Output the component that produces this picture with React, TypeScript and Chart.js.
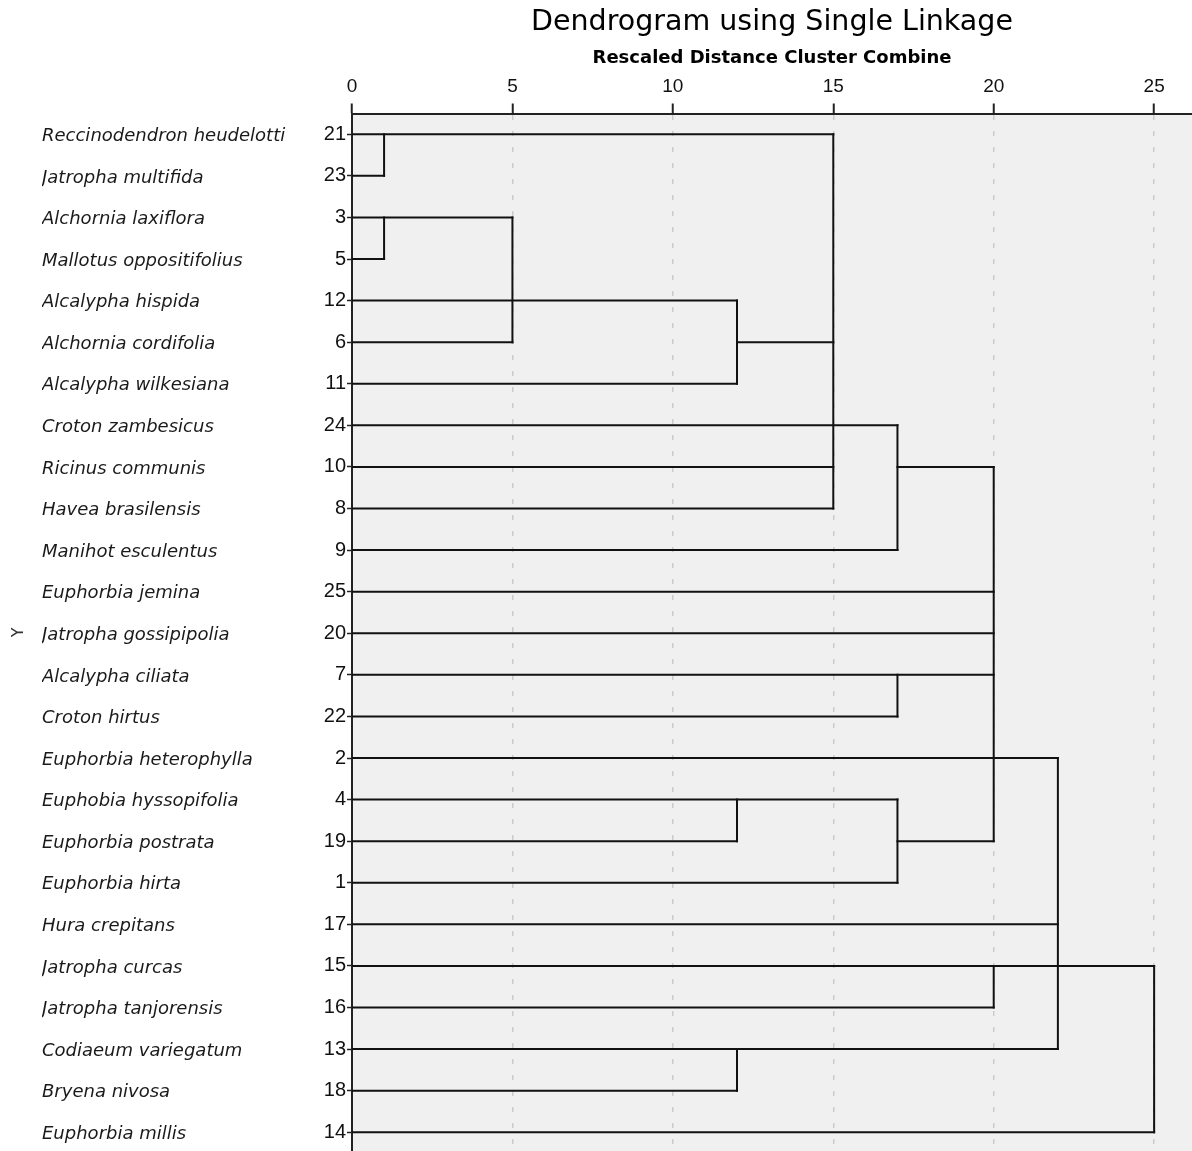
import { useEffect, useRef } from 'react';
import { Chart, registerables } from 'chart.js';

Chart.register(...registerables);

// Rows of the dendrogram, top to bottom
const speciesNames = [
  'Reccinodendron heudelotti',
  'Jatropha multifida',
  'Alchornia laxiflora',
  'Mallotus oppositifolius',
  'Alcalypha hispida',
  'Alchornia cordifolia',
  'Alcalypha wilkesiana',
  'Croton zambesicus',
  'Ricinus communis',
  'Havea brasilensis',
  'Manihot esculentus',
  'Euphorbia jemina',
  'Jatropha gossipipolia',
  'Alcalypha ciliata',
  'Croton hirtus',
  'Euphorbia heterophylla',
  'Euphobia hyssopifolia',
  'Euphorbia postrata',
  'Euphorbia hirta',
  'Hura crepitans',
  'Jatropha curcas',
  'Jatropha tanjorensis',
  'Codiaeum variegatum',
  'Bryena nivosa',
  'Euphorbia millis',
];

const caseNumbers = [21, 23, 3, 5, 12, 6, 11, 24, 10, 8, 9, 25, 20, 7, 22, 2, 4, 19, 1, 17, 15, 16, 13, 18, 14];

const distanceTicks = [0, 5, 10, 15, 20, 25];

// Horizontal branches: [row, from distance, to distance]
const horizontalSegments: [number, number, number][] = [
  [0, 0, 15], [1, 0, 1], [2, 0, 5], [3, 0, 1], [4, 0, 12], [5, 0, 5], [5, 12, 15],
  [6, 0, 12], [7, 0, 17], [8, 0, 15], [8, 17, 20], [9, 0, 15], [10, 0, 17],
  [11, 0, 20], [12, 0, 20], [13, 0, 20], [14, 0, 17], [15, 0, 22], [16, 0, 17],
  [17, 0, 12], [17, 17, 20], [18, 0, 17], [19, 0, 22], [20, 0, 25], [21, 0, 20],
  [22, 0, 22], [23, 0, 12], [24, 0, 25],
];

// Vertical joins: [distance, from row, to row]
const verticalSegments: [number, number, number][] = [
  [1, 0, 1], [1, 2, 3], [5, 2, 5], [12, 4, 6], [15, 0, 9], [17, 7, 10], [20, 8, 17],
  [17, 13, 14], [12, 16, 17], [17, 16, 18], [22, 15, 22], [20, 20, 21], [12, 22, 23],
  [25, 20, 24],
];

const FONT = '"DejaVu Sans", Verdana, sans-serif';
const NUM_FONT = '"Liberation Sans", Arial, sans-serif';
const Y_MIN = -0.5;
const Y_MAX = 24.45;

export default function App() {
  const ref = useRef<HTMLCanvasElement>(null);

  useEffect(() => {
    const rowTicks = () => speciesNames.map((_, i) => ({ value: i }));
    const lineStyle = {
      showLine: true,
      borderColor: '#111',
      borderWidth: 2,
      pointRadius: 0,
      pointHoverRadius: 0,
      borderCapStyle: 'square' as const,
      fill: false,
      tension: 0,
    };
    const datasets = [
      ...horizontalSegments.map(([row, x0, x1]) => ({
        data: [{ x: x0, y: row }, { x: x1, y: row }],
      })),
      ...verticalSegments.map(([d, r0, r1]) => ({
        data: [{ x: d, y: r0 }, { x: d, y: r1 }],
      })),
    ].map((ds) => ({ ...ds, ...lineStyle }));

    const plotBg = {
      id: 'plotBg',
      beforeDraw(chart: any) {
        const { ctx, chartArea: a } = chart;
        ctx.save();
        ctx.fillStyle = '#f0f0f0';
        ctx.fillRect(a.left, a.top, a.right - a.left, a.bottom - a.top);
        ctx.restore();
      },
    };

    const chart = new Chart(ref.current as HTMLCanvasElement, {
      type: 'scatter',
      data: { datasets },
      plugins: [plotBg],
      options: {
        animation: false,
        responsive: false,
        layout: { padding: 0 },
        color: '#111',
        plugins: {
          legend: { display: false },
          tooltip: { enabled: false },
          title: {
            display: true,
            text: 'Dendrogram using Single Linkage',
            fullSize: false,
            color: '#000',
            font: { family: FONT, size: 28.5, weight: 'normal' },
            padding: { top: 5, bottom: 0 },
          },
          subtitle: {
            display: true,
            text: 'Rescaled Distance Cluster Combine',
            fullSize: false,
            color: '#000',
            font: { family: FONT, size: 18, weight: 'bold' },
            padding: { top: 8.5, bottom: 0 },
          },
        },
        scales: {
          x: {
            type: 'linear',
            position: 'top',
            min: 0,
            max: 26.18,
            afterBuildTicks: (s: any) => {
              s.ticks = distanceTicks.map((v) => ({ value: v }));
            },
            afterFit: (s: any) => {
              s.height = 44.2;
              s.paddingLeft = 0;
              s.paddingRight = 0;
            },
            ticks: {
              autoSkip: false,
              maxRotation: 0,
              padding: 5,
              color: '#111',
              font: { family: NUM_FONT, size: 19 },
            },
            grid: {
              color: (c: any) => (c.tick && c.tick.value === 0 ? 'rgba(0,0,0,0)' : '#cbcbcb'),
              lineWidth: 1.5,
              drawTicks: true,
              tickLength: 10,
              tickColor: '#222',
              tickWidth: 2,
              tickBorderDash: [],
            },
            border: { display: true, color: '#222', width: 2, dash: [5, 11] },
          },
          y: {
            type: 'linear',
            position: 'left',
            weight: 0,
            reverse: true,
            min: Y_MIN,
            max: Y_MAX,
            afterBuildTicks: (s: any) => {
              s.ticks = rowTicks();
            },
            afterFit: (s: any) => {
              s.width = 45;
              s.paddingTop = 0;
              s.paddingBottom = 0;
            },
            ticks: {
              autoSkip: false,
              padding: 1,
              color: '#111',
              font: { family: NUM_FONT, size: 20 },
              callback: (_v: any, i: number) => String(caseNumbers[i]),
            },
            grid: {
              display: true,
              drawOnChartArea: false,
              drawTicks: true,
              tickLength: 5,
              tickColor: '#222',
              tickWidth: 1.5,
            },
            border: { display: true, color: '#222', width: 2 },
          },
          yNames: {
            type: 'linear',
            axis: 'y',
            position: 'left',
            weight: 1,
            reverse: true,
            min: Y_MIN,
            max: Y_MAX,
            afterBuildTicks: (s: any) => {
              s.ticks = rowTicks();
            },
            afterFit: (s: any) => {
              s.width = 265;
              s.paddingTop = 0;
              s.paddingBottom = 0;
            },
            ticks: {
              autoSkip: false,
              crossAlign: 'far',
              padding: 0,
              labelOffset: 2,
              color: '#1a1a1a',
              font: { family: FONT, size: 18, style: 'italic' },
              callback: (_v: any, i: number) => speciesNames[i],
            },
            grid: { display: false },
            border: { display: false },
          },
          yTitle: {
            type: 'linear',
            axis: 'y',
            position: 'left',
            weight: 2,
            reverse: true,
            min: Y_MIN,
            max: Y_MAX,
            afterFit: (s: any) => {
              s.width = 42;
              s.paddingTop = 0;
              s.paddingBottom = 0;
            },
            ticks: { display: false },
            grid: { display: false },
            border: { display: false },
            title: {
              display: true,
              text: 'Y',
              color: '#333',
              font: { family: FONT, size: 16 },
              padding: { top: 9, bottom: 0 },
            },
          },
        },
      } as any,
    });

    return () => chart.destroy();
  }, []);

  return (
    <div style={{ position: 'fixed', left: 0, top: 0, width: 1192, height: 1151 }}>
      <canvas ref={ref} width={1192} height={1151} style={{ display: 'block' }} />
    </div>
  );
}
